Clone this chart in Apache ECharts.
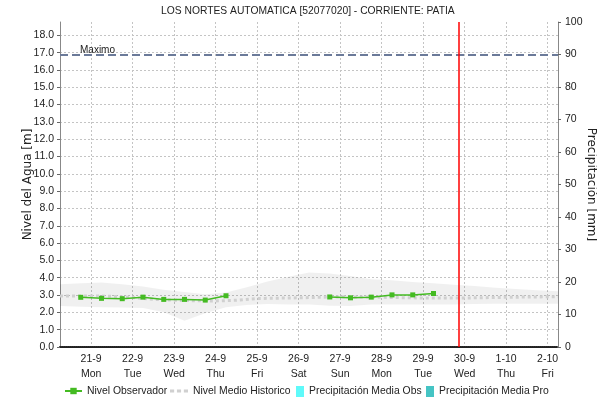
<!DOCTYPE html>
<html>
<head>
<meta charset="utf-8">
<script src="https://cdn.jsdelivr.net/npm/echarts@6/dist/echarts.min.js"></script>
<style>
  html, body { margin: 0; padding: 0; background: #fff; }
  #chart { width: 597px; height: 401px; }
</style>
</head>
<body>
<div id="chart"></div>
<script>
// Day ticks (offset in days from 21-9 00:00) and their two-line labels
const dayTicks = [0, 1, 2, 3, 4, 5, 6, 7, 8, 9, 10, 11];
const dayDates = ['21-9', '22-9', '23-9', '24-9', '25-9', '26-9', '27-9', '28-9', '29-9', '30-9', '1-10', '2-10'];
const dayNames = ['Mon', 'Tue', 'Wed', 'Thu', 'Fri', 'Sat', 'Sun', 'Mon', 'Tue', 'Wed', 'Thu', 'Fri'];

// Observed water level readings (hours from 21-9 00:00, metres); null marks the gap
const obsHours  = [-6, 6, 18, 30, 42, 54, 66, 78, null, 138, 150, 162, 174, 186, 198];
const obsLevels = [2.87, 2.81, 2.79, 2.88, 2.75, 2.75, 2.71, 2.96, null, 2.89, 2.84, 2.88, 3.01, 3.01, 3.09];

// Historic mean level
const histDays   = [-0.75, 0, 0.5, 1, 1.5, 2, 2.5, 3, 3.5, 4, 5, 6, 7, 8, 9, 10, 11, 11.25];
const histLevels = [2.95, 2.95, 2.93, 2.86, 2.75, 2.7, 2.67, 2.66, 2.7, 2.8, 2.84, 2.9, 2.87, 2.83, 2.83, 2.87, 2.9, 2.9];

// Historic range band (upper / lower bounds)
const bandDays  = [-0.75, -0.25, 0.25, 0.75, 1.25, 1.75, 2.25, 2.75, 3.25, 3.75, 4.25, 4.75, 5.25, 5.75, 6.25, 6.75, 7.25, 7.75, 8.25, 8.75, 9.25, 9.75, 10.25, 10.75, 11.25];
const bandUpper = [3.63, 3.68, 3.72, 3.62, 3.5, 3.3, 3.18, 3.05, 3.15, 3.45, 3.78, 4.05, 4.3, 4.25, 4.1, 3.92, 3.85, 3.75, 3.68, 3.6, 3.52, 3.42, 3.35, 3.28, 3.22];
const bandLower = [2.37, 2.33, 2.30, 2.28, 2.25, 2.0, 1.52, 1.95, 2.3, 2.42, 2.48, 2.45, 2.45, 2.38, 2.37, 2.45, 2.45, 2.45, 2.45, 2.46, 2.48, 2.5, 2.5, 2.5, 2.5];

const maximoLevel = 16.85;
const nowDay = 8.85;

const levelTicks = [0, 1, 2, 3, 4, 5, 6, 7, 8, 9, 10, 11, 12, 13, 14, 15, 16, 17, 18];

const FONT = 'Liberation Sans';
const TICK_FONT = '"Liberation Sans Narrow", "Liberation Sans", sans-serif';

const chart = echarts.init(document.getElementById('chart'), null, { renderer: 'canvas' });

const obsData = obsHours.map((h, i) => (h === null ? [null, null] : [h / 24, obsLevels[i]]));
const histData = histDays.map((d, i) => [d, histLevels[i]]);
const bandData = bandDays.map((d, i) => [d, bandLower[i], bandUpper[i]]);

const gridLine = { show: true, lineStyle: { color: '#c4c4c4', type: [2, 2], width: 1 } };

// Shaded historic range drawn as a single polygon through the axis scales
function renderBand(params, api) {
  if (params.dataIndex !== 0) return null;
  const top = bandData.map(p => api.coord([p[0], p[2]]));
  const bottom = bandData.map(p => api.coord([p[0], p[1]])).reverse();
  return {
    type: 'polygon',
    shape: { points: top.concat(bottom) },
    style: { fill: 'rgba(0,0,0,0.06)' },
    silent: true
  };
}

// One legend block per entry so each sits at its own spot along the bottom
function legendEntry(left, width, height, item) {
  return {
    left: left, top: 386, padding: 0, itemWidth: width, itemHeight: height,
    textStyle: { fontFamily: FONT, fontSize: 10.4, color: '#222' },
    data: [item]
  };
}

chart.setOption({
  animation: false,
  backgroundColor: '#fff',
  textStyle: { fontFamily: FONT },
  title: {
    text: 'LOS NORTES AUTOMATICA [52077020] - CORRIENTE: PATIA',
    left: 161, top: 6, padding: 0,
    textStyle: { fontFamily: FONT, fontSize: 10.3, fontWeight: 'normal', color: '#222' }
  },
  legend: [
    legendEntry(64, 17, 8, 'Nivel Observador'),
    legendEntry(170, 18, 8, { name: 'Nivel Medio Historico', icon: 'path://M0,0h3v2h-3z M5,0h3v2h-3z M10,0h3v2h-3z', itemStyle: { color: '#d0d0d0' } }),
    legendEntry(296, 8, 11, { name: 'Precipitación Media Obs', icon: 'rect' }),
    legendEntry(426, 8, 11, { name: 'Precipitación Media Pro', icon: 'rect' })
  ],
  grid: { left: 60, right: 39, top: 22, bottom: 54, outerBoundsMode: 'none', containLabel: false },
  xAxis: {
    type: 'value', min: -0.75, max: 11.25,
    axisLine: { show: true, onZero: false, lineStyle: { color: '#222', type: [1, 1], width: 2 } },
    axisTick: { show: false, customValues: dayTicks },
    axisLabel: {
      customValues: dayTicks, margin: 5, fontSize: 10.5, lineHeight: 15, color: '#222', fontFamily: TICK_FONT,
      formatter: v => { const i = dayTicks.indexOf(Math.round(v)); return i < 0 ? '' : dayDates[i] + '\n' + dayNames[i]; }
    },
    splitLine: gridLine
  },
  yAxis: [{
    type: 'value', min: 0, max: 18.77,
    name: 'Nivel del Agua [m]', nameLocation: 'middle', nameGap: 26, nameRotate: 90, nameMoveOverlap: false,
    nameTextStyle: { fontFamily: 'DejaVu Sans', fontSize: 12, color: '#222' },
    axisLine: { show: true, onZero: false, lineStyle: { color: '#888', width: 1 } },
    axisTick: { show: true, length: 3, customValues: levelTicks, lineStyle: { color: '#666' } },
    axisLabel: { customValues: levelTicks, margin: 6, fontSize: 10.5, color: '#222', fontFamily: TICK_FONT, formatter: v => v.toFixed(1) },
    splitLine: gridLine
  }, {
    type: 'value', min: 0, max: 100, interval: 10,
    name: 'Precipitación [mm]', nameLocation: 'middle', nameGap: 27, nameRotate: -90, nameMoveOverlap: false,
    nameTextStyle: { fontFamily: 'DejaVu Sans', fontSize: 12, color: '#222' },
    axisLine: { show: true, onZero: false, lineStyle: { color: '#888', width: 1 } },
    axisTick: { show: true, length: 3, lineStyle: { color: '#666' } },
    axisLabel: { margin: 7, fontSize: 10.5, color: '#222', fontFamily: TICK_FONT },
    splitLine: { show: false }
  }],
  series: [
    {
      name: 'band', type: 'custom', renderItem: renderBand, data: bandData,
      encode: { x: 0, y: [1, 2] }, silent: true, z: 1, clip: true
    },
    {
      name: 'Nivel Medio Historico', type: 'line', data: histData, symbol: 'none', z: 2,
      itemStyle: { color: '#d0d0d0' },
      lineStyle: { color: '#d0d0d0', width: 3, type: [3, 3] }
    },
    {
      name: 'Nivel Observador', type: 'line', data: obsData, connectNulls: false,
      symbol: 'rect', symbolSize: 5, z: 4,
      itemStyle: { color: '#44bb22' },
      lineStyle: { color: '#44bb22', width: 1.5 },
      markLine: {
        silent: true, symbol: 'none', animation: false,
        data: [
          {
            yAxis: maximoLevel,
            lineStyle: { color: '#6b7a99', type: [8, 4], width: 2 },
            label: { show: true, position: 'insideStartTop', formatter: 'Maximo', color: '#222', fontSize: 10, fontFamily: FONT, distance: [20, 0] }
          },
          {
            xAxis: nowDay,
            lineStyle: { color: '#ff0000', type: 'solid', width: 1.5 },
            label: { show: false }
          }
        ]
      }
    },
    {
      name: 'Precipitación Media Obs', type: 'bar', yAxisIndex: 1, data: [],
      itemStyle: { color: '#5ffafa' }
    },
    {
      name: 'Precipitación Media Pro', type: 'bar', yAxisIndex: 1, data: [],
      itemStyle: { color: '#45c4c4' }
    }
  ]
});
</script>
</body>
</html>
